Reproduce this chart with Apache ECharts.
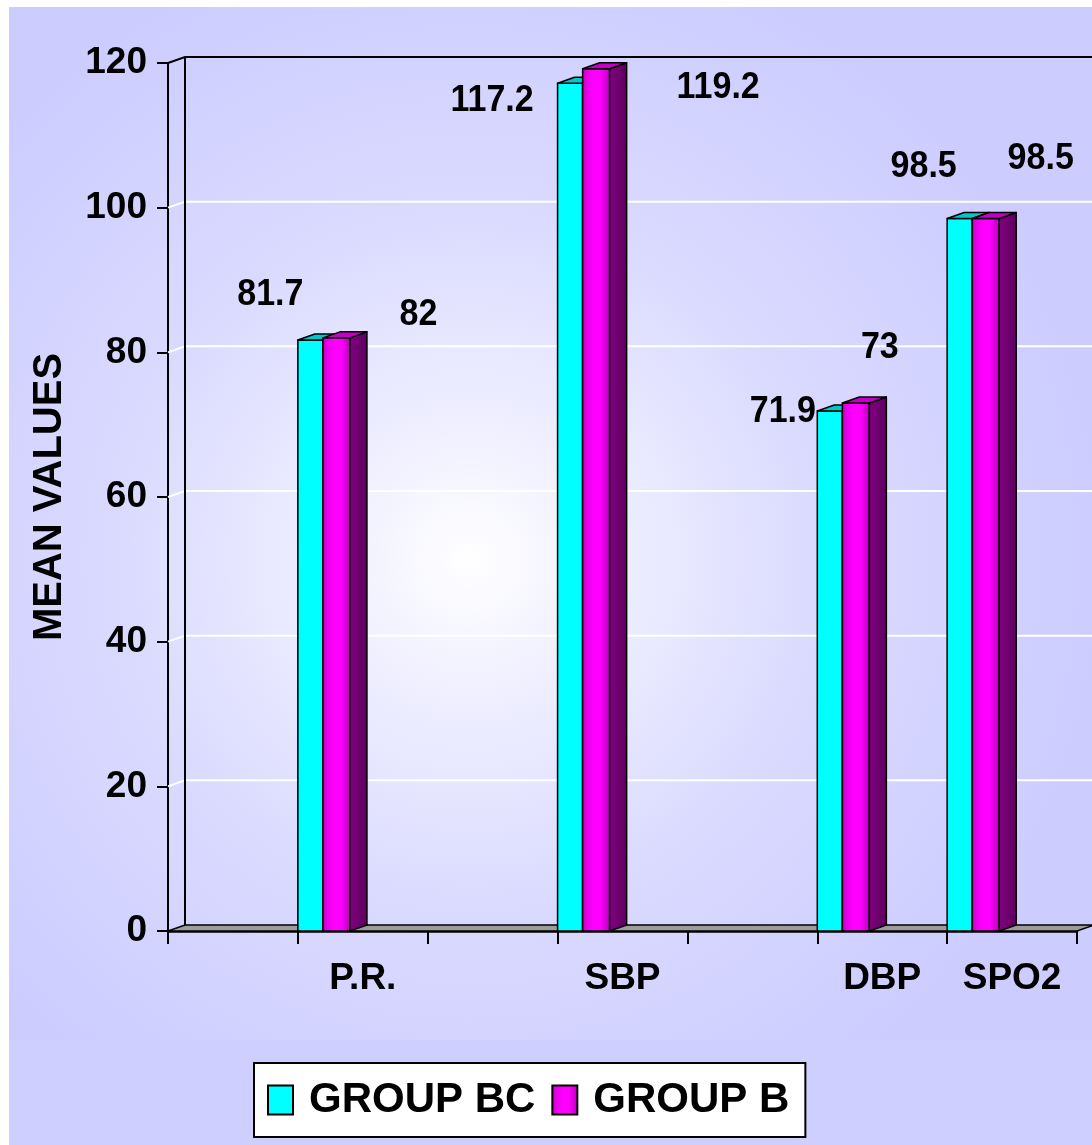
<!DOCTYPE html>
<html>
<head>
<meta charset="utf-8">
<script src="https://cdn.jsdelivr.net/npm/echarts@6/dist/echarts.min.js"></script>
<style>
  html, body { margin: 0; padding: 0; background: #ffffff; }
  #chart { width: 1092px; height: 1145px; }
</style>
</head>
<body>
<div id="chart"></div>
<script>
// ---- data ----
const axisCategories = ['', 'P.R.', '', 'SBP', '', 'DBP', 'SPO2'];
const groupBC = [null, 81.7, null, 117.2, null, 71.9, 98.5];
const groupB  = [null, 82,   null, 119.2, null, 73,   98.5];
const yTicks = [0, 20, 40, 60, 80, 100, 120];
const seriesNames = ['GROUP BC', 'GROUP B'];
const yAxisTitle = 'MEAN VALUES';

// ---- label placement (pixel nudges from the front-top centre of each bar) ----
const labelNudgeBC = [null, [-40, -45], null, [-78, 18], null, [-47, 1], [-36, -52]];
const labelNudgeB  = [null, [82, -23],  null, [122, 19], null, [24, -55], [55, -60]];

// ---- look ----
const FONT = "'Liberation Sans', Arial, Helvetica, sans-serif";
const DX = 17, DY = -6;          // 3D depth offset of the box
const G = echarts.graphic;

const cyanFaces = {
  front: '#00FFFF',
  top: '#00C8C8',
  side: '#009999'
};
const magentaFaces = {
  front: new G.LinearGradient(0, 0, 1, 0, [
    { offset: 0, color: '#B000B0' },
    { offset: 0.15, color: '#E400E4' },
    { offset: 0.4, color: '#FF00FF' },
    { offset: 0.65, color: '#FF00FF' },
    { offset: 1, color: '#B400B4' }
  ]),
  top: '#C400C4',
  side: new G.LinearGradient(0, 0, 1, 0, [
    { offset: 0, color: '#820082' },
    { offset: 1, color: '#5C005C' }
  ])
};

function toItems(values) {
  const out = [];
  values.forEach((v, i) => { if (v != null) out.push([i, v]); });
  return out;
}

// back wall, floor and gridlines of the 3D box
function renderWall(params, api) {
  const cs = params.coordSys;
  const x0 = cs.x, x1 = cs.x + cs.width;
  const yTop = api.coord([0, yTicks[yTicks.length - 1]])[1];
  const yBase = api.coord([0, yTicks[0]])[1];
  const farRight = api.getWidth();
  const children = [];
  yTicks.slice(1, -1).forEach(v => {
    const y = api.coord([0, v])[1];
    children.push({
      type: 'polyline',
      shape: { points: [[x0, y], [x0 + DX, y + DY], [farRight, y + DY]] },
      style: { stroke: '#FFFFFF', lineWidth: 2, fill: null }
    });
  });
  children.push({
    type: 'polygon',
    shape: { points: [[x0, yBase], [x0 + DX, yBase + DY], [x1 + DX, yBase + DY], [x1, yBase]] },
    style: { fill: '#9C9C9C', stroke: '#000', lineWidth: 1.5 }
  });
  children.push({
    type: 'polyline',
    shape: { points: [[x0, yTop], [x0 + DX, yTop + DY], [farRight, yTop + DY]] },
    style: { stroke: '#000', lineWidth: 2, fill: null }
  });
  children.push({
    type: 'line',
    shape: { x1: x0 + DX, y1: yTop + DY, x2: x0 + DX, y2: yBase + DY },
    style: { stroke: '#000', lineWidth: 2 }
  });
  return { type: 'group', children };
}

// 3D column: front, side and top faces plus its value label
function makeBarRenderer(frac0, frac1, faces, nudges) {
  return function (params, api) {
    const idx = api.value(0), val = api.value(1);
    const top = api.coord([idx, val]);
    const base = api.coord([idx, 0]);
    const band = api.size([1, 0])[0];
    const slotLeft = top[0] - band / 2;
    const xl = slotLeft + band * frac0, xr = slotLeft + band * frac1;
    const yt = top[1], yb = base[1];
    const edge = { stroke: '#000', lineWidth: 1.5, lineJoin: 'round' };
    const nudge = nudges[idx] || [0, -20];
    return {
      type: 'group',
      children: [
        { type: 'rect', shape: { x: xl, y: yt, width: xr - xl, height: yb - yt },
          style: Object.assign({ fill: faces.front }, edge) },
        { type: 'polygon', shape: { points: [[xr, yt], [xr + DX, yt + DY], [xr + DX, yb + DY], [xr, yb]] },
          style: Object.assign({ fill: faces.side }, edge) },
        { type: 'polygon', shape: { points: [[xl, yt], [xl + DX, yt + DY], [xr + DX, yt + DY], [xr, yt]] },
          style: Object.assign({ fill: faces.top }, edge) },
        { type: 'text', x: (xl + xr) / 2 + nudge[0], y: yt + nudge[1], scaleY: 1.08,
          style: { text: String(val), fill: '#000', fontSize: 34, fontWeight: 'bold',
                   fontFamily: FONT, align: 'center', verticalAlign: 'middle' } }
      ]
    };
  };
}

const chart = echarts.init(document.getElementById('chart'), null, { renderer: 'canvas' });

chart.setOption({
  animation: false,
  backgroundColor: '#FFFFFF',
  graphic: {
    elements: [
      { type: 'rect', z: -100, silent: true,
        shape: { x: 9, y: 7, width: 1083, height: 1138 },
        style: { fill: '#CFCFFF' } },
      { type: 'rect', z: -99, silent: true,
        shape: { x: 9, y: 7, width: 1083, height: 1033 },
        style: { fill: new G.RadialGradient(0.426, 0.535, 0.62, [
          { offset: 0, color: '#FFFFFF' },
          { offset: 0.2, color: '#F0F0FF' },
          { offset: 0.55, color: '#DADAFF' },
          { offset: 1, color: '#CCCCFF' }
        ]) } }
    ]
  },
  grid: { left: 168, right: 15, top: 63, bottom: 214, containLabel: false },
  legend: {
    left: 254, top: 1063,
    orient: 'horizontal',
    selectedMode: false,
    backgroundColor: '#FFFFFF',
    borderColor: '#000',
    borderWidth: 2,
    padding: [15, 16, 15, 13],
    itemGap: 16,
    itemWidth: 25,
    itemHeight: 29,
    icon: 'rect',
    itemStyle: { borderColor: '#000', borderWidth: 2 },
    textStyle: { fontSize: 42, fontWeight: 'bold', color: '#000', fontFamily: FONT,
                 lineHeight: 44, padding: [0, 0, 0, 11] },
    data: [
      { name: seriesNames[0], itemStyle: { color: cyanFaces.front } },
      { name: seriesNames[1], itemStyle: { color: magentaFaces.front } }
    ]
  },
  xAxis: {
    type: 'category',
    data: axisCategories,
    boundaryGap: true,
    axisLine: { show: true, lineStyle: { color: '#000', width: 2.5 } },
    axisTick: { show: true, interval: 0, length: 13, lineStyle: { color: '#000', width: 2 } },
    axisLabel: { interval: 0, margin: 29, fontSize: 37, fontWeight: 'bold', color: '#000', fontFamily: FONT },
    splitLine: { show: false }
  },
  yAxis: {
    type: 'value',
    min: yTicks[0],
    max: yTicks[yTicks.length - 1],
    interval: 20,
    name: yAxisTitle,
    nameLocation: 'middle',
    nameRotate: 90,
    nameGap: 98,
    nameTextStyle: { fontSize: 40, fontWeight: 'bold', color: '#000', fontFamily: FONT },
    axisLine: { show: true, lineStyle: { color: '#000', width: 2 } },
    axisTick: { show: true, length: 11, lineStyle: { color: '#000', width: 2 } },
    axisLabel: { margin: 21, fontSize: 37, fontWeight: 'bold', color: '#000', fontFamily: FONT },
    splitLine: { show: false }
  },
  series: [
    {
      type: 'custom',
      name: 'wall',
      silent: true,
      z: 1,
      renderItem: renderWall,
      encode: { x: 0, y: 1 },
      data: [[0, 0]]
    },
    {
      type: 'custom',
      name: seriesNames[0],
      z: 3,
      renderItem: makeBarRenderer(0, 0.193, cyanFaces, labelNudgeBC),
      encode: { x: 0, y: 1 },
      itemStyle: { color: cyanFaces.front },
      data: toItems(groupBC)
    },
    {
      type: 'custom',
      name: seriesNames[1],
      z: 4,
      renderItem: makeBarRenderer(0.193, 0.401, magentaFaces, labelNudgeB),
      encode: { x: 0, y: 1 },
      itemStyle: { color: '#FF00FF' },
      data: toItems(groupB)
    }
  ]
});
</script>
</body>
</html>
